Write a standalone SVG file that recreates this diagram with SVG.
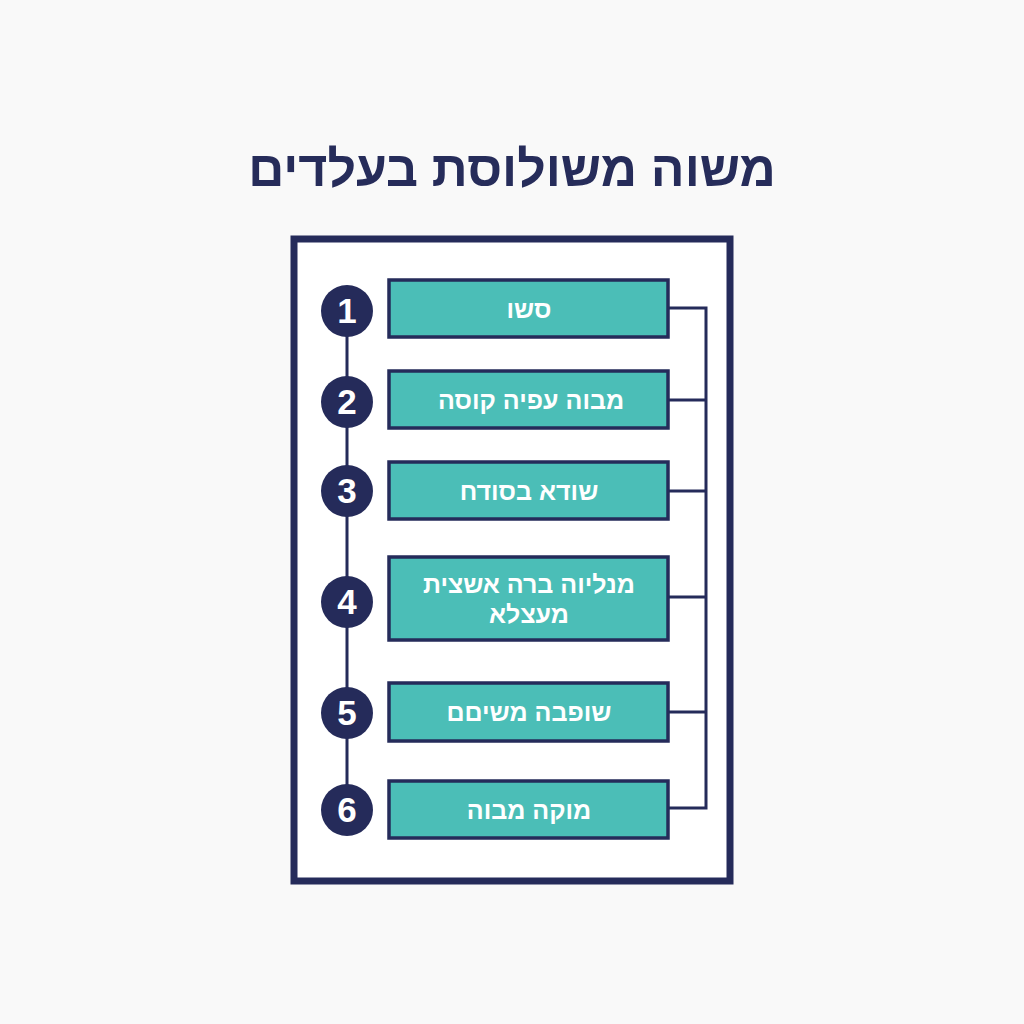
<svg xmlns="http://www.w3.org/2000/svg" width="1024" height="1024" viewBox="0 0 1024 1024">
<style>
.bg{fill:#f9f9f9}
.frame{fill:#ffffff;stroke:#252b5a;stroke-width:7}
.box{fill:#4bbeb7;stroke:#252b5a;stroke-width:3.5}
.circ{fill:#252b5a}
.num{fill:#ffffff;font-family:"Liberation Sans","DejaVu Sans",sans-serif;font-weight:bold;font-size:35px;text-anchor:middle}
.lbl{fill:#ffffff;font-family:"Liberation Sans","DejaVu Sans",sans-serif;font-weight:bold;font-size:25px;text-anchor:middle;direction:rtl}
.title{fill:#262c5a;font-family:"Liberation Sans","DejaVu Sans",sans-serif;font-weight:bold;font-size:50px;text-anchor:middle;direction:rtl}
.line{fill:none;stroke:#252b5a;stroke-width:3}
</style>
<rect class="bg" x="0" y="0" width="1024" height="1024"/>
<text class="title" x="512" y="186">משוה משולוסת בעלדים</text>
<rect class="frame" x="294" y="239" width="436" height="642"/>
<g id="connectors">
<line class="line" x1="347" y1="311" x2="347" y2="810"/>
<polyline class="line" points="669,308 706,308 706,808 669,808"/>
<line class="line" x1="669" y1="400" x2="706" y2="400"/>
<line class="line" x1="669" y1="491" x2="706" y2="491"/>
<line class="line" x1="669" y1="597" x2="706" y2="597"/>
<line class="line" x1="669" y1="712" x2="706" y2="712"/>
</g>
<g id="node1">
<circle class="circ" cx="347" cy="311" r="26"/>
<text class="num" x="347" y="323">1</text>
<rect class="box" x="389" y="280" width="279" height="57"/>
<text class="lbl" x="529" y="318">סשו</text>
</g>
<g id="node2">
<circle class="circ" cx="347" cy="402" r="26"/>
<text class="num" x="347" y="414">2</text>
<rect class="box" x="389" y="371" width="279" height="57"/>
<text class="lbl" x="531" y="409">מבוה עפיה קוסה</text>
</g>
<g id="node3">
<circle class="circ" cx="347" cy="491" r="26"/>
<text class="num" x="347" y="503">3</text>
<rect class="box" x="389" y="462" width="279" height="57"/>
<text class="lbl" x="529" y="500">שודא בסודח</text>
</g>
<g id="node4">
<circle class="circ" cx="347" cy="602" r="26"/>
<text class="num" x="347" y="614">4</text>
<rect class="box" x="389" y="557" width="279" height="83"/>
<text class="lbl" x="529" y="593">מנליוה ברה אשצית</text>
<text class="lbl" x="529" y="623">מעצלא</text>
</g>
<g id="node5">
<circle class="circ" cx="347" cy="713" r="26"/>
<text class="num" x="347" y="725">5</text>
<rect class="box" x="389" y="683" width="279" height="58"/>
<text class="lbl" x="529" y="721">שופבה משיםם</text>
</g>
<g id="node6">
<circle class="circ" cx="347" cy="810" r="26"/>
<text class="num" x="347" y="822">6</text>
<rect class="box" x="389" y="781" width="279" height="57"/>
<text class="lbl" x="529" y="819">מוקה מבוה</text>
</g>
</svg>
